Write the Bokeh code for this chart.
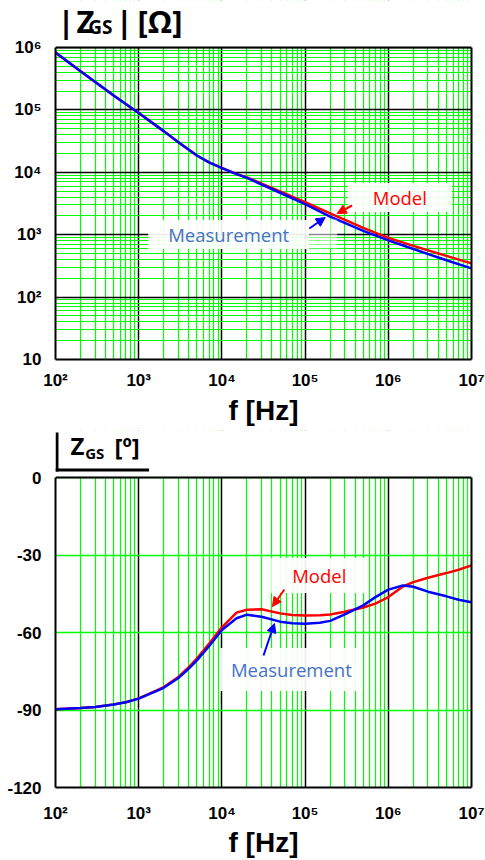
from bokeh.plotting import figure
from bokeh.layouts import column
from bokeh.models import (FixedTicker, Label, Arrow, NormalHead, BoxAnnotation, Span,
                          LogAxis, LinearAxis)
from bokeh.embed import file_html
from bokeh.resources import INLINE

# ---------------- data ----------------
freq_mag = [1e2, 2e2, 5e2, 1e3, 2e3, 3e3, 5e3, 7e3, 1e4, 1.5e4, 2e4, 5e4, 1e5, 2e5, 5e5, 1e6, 2e6, 5e6, 1e7]
mag_measurement = [8.3e5, 4.17e5, 1.70e5, 8.9e4, 4.57e4, 3.02e4, 1.86e4, 1.445e4, 1.17e4, 9330, 8130, 4700,
                   3090, 1950, 1150, 813, 589, 389, 288]
mag_model = [8.3e5, 4.17e5, 1.70e5, 8.9e4, 4.57e4, 3.02e4, 1.86e4, 1.445e4, 1.18e4, 9450, 8300, 4950,
             3310, 2190, 1290, 891, 661, 457, 347]

freq_phase = [1e2, 2e2, 3e2, 5e2, 7e2, 1e3, 1.5e3, 2e3, 3e3, 4e3, 5e3, 7e3, 1e4, 1.5e4, 2e4, 3e4,
              5e4, 7e4, 1e5, 1.5e5, 2e5, 3e5, 5e5, 7e5, 1e6, 1.5e6, 2e6, 3e6, 5e6, 7e6, 1e7]
phase_measurement = [-89.7, -89.2, -88.8, -87.9, -87.0, -85.6, -83.2, -81.4, -77.6, -74.0, -70.8, -65.3, -59.0,
                     -54.5, -53.1, -53.9, -55.8, -56.4, -56.6, -56.2, -55.5, -53.0, -49.5, -46.3, -43.4,
                     -41.8, -42.3, -44.2, -46.0, -47.3, -48.3]
phase_model = [-89.7, -89.2, -88.8, -87.9, -87.0, -85.5, -83.0, -81.1, -77.2, -73.4, -70.1, -64.4, -58.0,
               -52.3, -51.2, -51.0, -52.6, -53.2, -53.4, -53.3, -53.0, -52.0, -50.3, -48.8, -46.3,
               -42.2, -40.5, -38.8, -37.0, -35.7, -34.0]

freq_ticks = [1e2, 1e3, 1e4, 1e5, 1e6, 1e7]
freq_tick_labels = ["10²", "10³", "10⁴", "10⁵", "10⁶", "10⁷"]
mag_ticks = [1e1, 1e2, 1e3, 1e4, 1e5, 1e6]
mag_tick_labels = ["10", "10²", "10³", "10⁴", "10⁵", "10⁶"]
phase_ticks = [-120, -90, -60, -30, 0]
phase_tick_labels = ["-120", "-90", "-60", "-30", "0"]

GREEN = "#00ff00"
RED = "#ff0000"
BLUE = "#0000ff"
TXT_BLUE = "#4472c4"
LBL_FONT = "Open Sans"
TICK_FONT = "Liberation Sans"


def minor_between(ticks):
    out = []
    for t in ticks[:-1]:
        out += [t * m for m in range(2, 10)]
    return out


def style(p, xticks, xlabels, yticks, ylabels, ybounds, right_axis_cls, tick_standoff, label_standoff):
    p.outline_line_color = None
    p.background_fill_color = "white"
    p.border_fill_color = "white"
    p.xaxis.ticker = FixedTicker(ticks=xticks, minor_ticks=minor_between(xticks))
    p.xaxis.major_label_overrides = {float(t): l for t, l in zip(xticks, xlabels)}
    p.yaxis.major_label_overrides = {float(t): l for t, l in zip(yticks, ylabels)}
    p.yaxis.bounds = ybounds
    for ax in p.axis:
        ax.axis_line_color = "black"
        ax.axis_line_width = 2
        ax.major_tick_line_color = None
        ax.minor_tick_line_color = None
        ax.major_label_text_font = TICK_FONT
        ax.major_label_text_font_style = "bold"
        ax.major_label_text_font_size = "17px"
        ax.major_label_text_color = "black"
        ax.major_label_standoff = 8
    p.xaxis.major_label_standoff = tick_standoff
    p.xaxis.axis_label = "f [Hz]"
    p.xaxis.axis_label_text_font = TICK_FONT
    p.xaxis.axis_label_text_font_style = "bold"
    p.xaxis.axis_label_text_font_size = "28px"
    p.xaxis.axis_label_text_color = "black"
    p.xaxis.axis_label_standoff = label_standoff
    p.xgrid.grid_line_color = "black"
    p.xgrid.grid_line_width = 1.5
    p.xgrid.minor_grid_line_color = GREEN
    p.xgrid.minor_grid_line_width = 1.2
    right = right_axis_cls(ticker=FixedTicker(ticks=[]), bounds=ybounds, axis_line_color="black",
                           axis_line_width=2, major_tick_line_color=None, minor_tick_line_color=None,
                           major_label_standoff=0, major_label_text_font_size="1px")
    p.add_layout(right, "right")
    # white band above the plot box (title area) and top edge of the box
    p.add_layout(BoxAnnotation(bottom=ybounds[1], fill_color="white", fill_alpha=1, line_color=None))
    p.add_layout(Span(location=ybounds[1], dimension="width", line_color="black", line_width=2))


# ---------------- top: magnitude ----------------
p1 = figure(width=485, height=430, x_axis_type="log", y_axis_type="log",
            x_range=(1e2, 1e7), y_range=(10, 10 ** (6 + 47 / 62.4)),
            output_backend="svg", toolbar_location=None,
            min_border_left=55, min_border_right=12, min_border_top=0, min_border_bottom=71)
p1.yaxis.ticker = FixedTicker(ticks=mag_ticks, minor_ticks=minor_between(mag_ticks))
style(p1, freq_ticks, freq_tick_labels, mag_ticks, mag_tick_labels, (10, 1e6), LogAxis, 5, 2)
p1.ygrid.grid_line_color = "black"
p1.ygrid.grid_line_width = 1.5
p1.ygrid.minor_grid_line_color = GREEN
p1.ygrid.minor_grid_line_width = 1.2

p1.line(freq_mag, mag_model, line_color=RED, line_width=2.5)
p1.line(freq_mag, mag_measurement, line_color=BLUE, line_width=2.5)


def tx(px):  # annotation placement helper (top panel, page pixel -> data)
    return 10 ** (2 + (px - 55) / 83.6)


def ty(py):
    return 10 ** (1 + (359 - py) / 62.4)


def bx(px):  # bottom panel
    return 10 ** (2 + (px - 53) / 83.6)


def by(py):
    return -(py - 477) / 2.5833


# faded extension of the "Measurement" call-out box
p1.add_layout(BoxAnnotation(left=tx(310), right=tx(338), top=ty(219), bottom=ty(248),
                            fill_color="white", fill_alpha=0.55, line_color=None))
p1.add_layout(Label(x=tx(401), y=ty(197), text="Model", text_font=LBL_FONT, text_font_size="18.5px",
                    text_color=RED, text_align="center", text_baseline="middle",
                    background_fill_color="white", background_fill_alpha=0.92, padding=(25, 2)))
p1.add_layout(Label(x=tx(229), y=ty(234), text="Measurement", text_font=LBL_FONT, text_font_size="18.5px",
                    text_color=TXT_BLUE, text_align="center", text_baseline="middle",
                    background_fill_color="white", background_fill_alpha=0.92, padding=(20, 2)))
p1.add_layout(Arrow(end=NormalHead(size=9, fill_color=RED, line_color=RED),
                    x_start=tx(353), y_start=ty(205), x_end=tx(338), y_end=ty(213),
                    line_color=RED, line_width=2))
p1.add_layout(Arrow(end=NormalHead(size=9, fill_color=BLUE, line_color=BLUE),
                    x_start=tx(310), y_start=ty(228), x_end=tx(326), y_end=ty(217),
                    line_color=BLUE, line_width=2))

# title |Z_GS| [Ω]   (y values already include the renderer's baseline offset)
for txt, px, py, size in [("|", 65.5, 20, "31px"), ("Z", 85, 20, "31px"), ("GS", 100, 26, "19px"),
                          ("|", 124, 20, "31px"), ("[Ω]", 160, 20, "31px")]:
    p1.add_layout(Label(x=tx(px), y=ty(py), text=txt, text_font=LBL_FONT, text_font_size=size,
                        text_font_style="bold", text_color="black",
                        text_align="center", text_baseline="alphabetic"))

# ---------------- bottom: phase ----------------
p2 = figure(width=485, height=430, x_axis_type="log",
            x_range=(1e2, 1e7), y_range=(-120, 47 / 2.5833),
            output_backend="svg", toolbar_location=None,
            min_border_left=53, min_border_right=14, min_border_top=0, min_border_bottom=73)
p2.yaxis.ticker = FixedTicker(ticks=phase_ticks)
style(p2, freq_ticks, freq_tick_labels, phase_ticks, phase_tick_labels, (-120, 0), LinearAxis, 10, 1)
p2.ygrid.grid_line_color = GREEN
p2.ygrid.grid_line_width = 1.5

p2.line(freq_phase, phase_model, line_color=RED, line_width=2.5)
p2.line(freq_phase, phase_measurement, line_color=BLUE, line_width=2.5)

p2.add_layout(Label(x=bx(318), y=by(575), text="Model", text_font=LBL_FONT, text_font_size="18.5px",
                    text_color=RED, text_align="center", text_baseline="middle",
                    background_fill_color="white", background_fill_alpha=0.92, padding=(21, 5)))
p2.add_layout(Label(x=bx(290), y=by(669), text="Measurement", text_font=LBL_FONT, text_font_size="18.5px",
                    text_color=TXT_BLUE, text_align="center", text_baseline="middle",
                    background_fill_color="white", background_fill_alpha=0.92, padding=(11, 9)))
p2.add_layout(Arrow(end=NormalHead(size=9, fill_color=RED, line_color=RED),
                    x_start=bx(283), y_start=by(589), x_end=bx(271), y_end=by(606),
                    line_color=RED, line_width=2))
p2.add_layout(Arrow(end=NormalHead(size=9, fill_color=BLUE, line_color=BLUE),
                    x_start=bx(262), y_start=by(655), x_end=bx(273), y_end=by(623),
                    line_color=BLUE, line_width=2))

# title ∠Z_GS [º] with angle bracket
p2.add_layout(BoxAnnotation(left=bx(53), right=bx(56), top=by(432), bottom=by(471),
                            fill_color="black", fill_alpha=1, line_color=None))
p2.add_layout(BoxAnnotation(left=bx(53), right=bx(147), top=by(468), bottom=by(471),
                            fill_color="black", fill_alpha=1, line_color=None))
for txt, px, py, size in [("Z", 75, 445, "24px"), ("GS", 92.5, 452, "15px"), ("[º]", 125, 446, "24px")]:
    p2.add_layout(Label(x=bx(px), y=by(py), text=txt, text_font=LBL_FONT, text_font_size=size,
                        text_font_style="bold", text_color="black",
                        text_align="center", text_baseline="alphabetic"))

layout = column(p1, p2)
open("out.html", "w").write(file_html(layout, INLINE))
